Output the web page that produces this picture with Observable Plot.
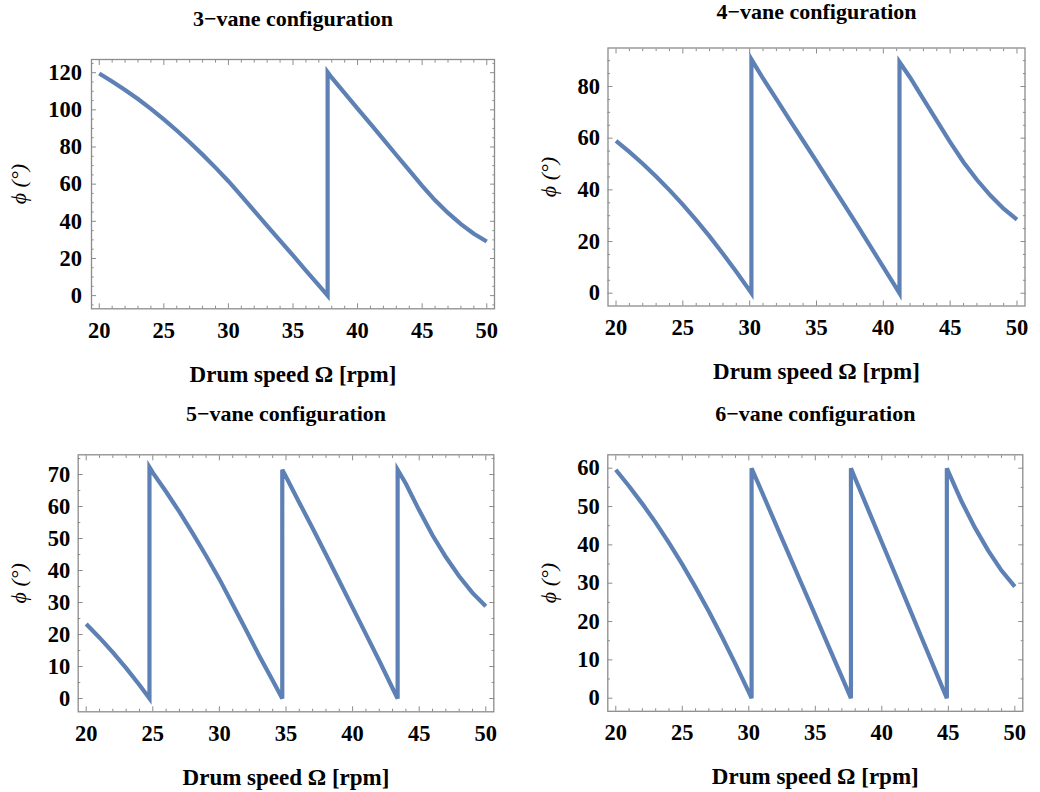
<!DOCTYPE html>
<html>
<head>
<meta charset="utf-8">
<script src="https://cdn.jsdelivr.net/npm/d3@7"></script>
<script src="https://cdn.jsdelivr.net/npm/@observablehq/plot@0.6"></script>
<style>
html, body { margin: 0; padding: 0; background: #fff; }
#root { position: relative; width: 1040px; height: 792px; overflow: hidden; background: #fff; }
#root svg { position: absolute; }
</style>
</head>
<body>
<div id="root"></div>
<script>
// ---------- data ----------
const titles = ["3\u2212vane configuration", "4\u2212vane configuration", "5\u2212vane configuration", "6\u2212vane configuration"];
const xLabel = "Drum speed \u03A9 [rpm]";
const yLabel = "\u03D5 (\u00B0)";

const xMajor = [20, 25, 30, 35, 40, 45, 50];
const xMinor = [21, 22, 23, 24, 26, 27, 28, 29, 31, 32, 33, 34, 36, 37, 38, 39, 41, 42, 43, 44, 46, 47, 48, 49];

const yMajor3 = [0, 20, 40, 60, 80, 100, 120];
const yMinor3 = [-5, 5, 10, 15, 25, 30, 35, 45, 50, 55, 65, 70, 75, 85, 90, 95, 105, 110, 115, 125];
const yMajor4 = [0, 20, 40, 60, 80];
const yMinor4 = [5, 10, 15, 25, 30, 35, 45, 50, 55, 65, 70, 75, 85, 90];
const yMajor5 = [0, 10, 20, 30, 40, 50, 60, 70];
const yMinor5 = [5, 15, 25, 35, 45, 55, 65, 75];
const yMajor6 = [0, 10, 20, 30, 40, 50, 60];
const yMinor6 = [5, 15, 25, 35, 45, 55];

// 3-vane
const omega3 = [20, 21, 22, 23, 24, 25, 26, 27, 28, 29, 30, 31, 32, 33, 34, 35, 36, 37, 37.68, 37.68, 38, 39, 40, 41, 42, 43, 44, 45, 46, 47, 48, 49, 50];
const phi3 = [119.6, 115.3, 110.7, 105.8, 100.5, 94.9, 88.9, 82.6, 75.9, 68.9, 61.6, 53.7, 45.6, 37.6, 29.6, 21.6, 13.5, 5.5, 0, 120.3, 117.3, 109.0, 100.7, 92.4, 84.1, 75.7, 67.4, 59.1, 51.3, 44.5, 38.5, 33.3, 29.1];
// 4-vane
const omega4 = [20, 21, 22, 23, 24, 25, 26, 27, 28, 29, 30, 30.13, 30.13, 31, 32, 33, 34, 35, 36, 37, 38, 39, 40, 41, 41.21, 41.21, 42, 43, 44, 45, 46, 47, 48, 49, 50];
const phi4 = [59.0, 54.7, 50.1, 45.2, 39.9, 34.3, 28.3, 22.0, 15.3, 8.3, 1.0, 0, 90.5, 83.1, 75.1, 67.0, 59.0, 51.0, 42.9, 34.9, 26.7, 18.4, 10.1, 1.8, 0, 89.5, 83.5, 75.1, 66.8, 58.5, 50.7, 43.9, 37.9, 32.7, 28.5];
// 5-vane
const omega5 = [20, 21, 22, 23, 24, 24.75, 24.75, 25, 26, 27, 28, 29, 30, 31, 32, 33, 34, 34.72, 34.72, 35, 36, 37, 38, 39, 40, 41, 42, 43, 43.38, 43.38, 44, 45, 46, 47, 48, 49, 50];
const phi5 = [23.3, 19.0, 14.4, 9.5, 4.2, 0, 72.3, 70.6, 64.6, 58.3, 51.6, 44.6, 37.3, 29.4, 21.4, 13.3, 5.6, 0, 71.5, 69.3, 61.2, 53.2, 45.0, 36.7, 28.4, 20.1, 11.8, 3.2, 0, 71.5, 67.1, 58.8, 51.0, 44.2, 38.2, 33.0, 28.8];
// 6-vane
const omega6 = [20, 21, 22, 23, 24, 25, 26, 27, 28, 29, 30, 30.21, 30.21, 31, 32, 33, 34, 35, 36, 37, 37.68, 37.68, 38, 39, 40, 41, 42, 43, 44, 44.89, 44.89, 45, 46, 47, 48, 49, 50];
const phi6 = [59.6, 55.3, 50.7, 45.8, 40.5, 34.9, 28.9, 22.6, 15.9, 8.9, 1.6, 0, 60, 53.7, 45.6, 37.6, 29.6, 21.6, 13.5, 5.5, 0, 60, 57.3, 49.0, 40.7, 32.4, 24.1, 15.7, 7.4, 0, 60, 59.1, 51.3, 44.5, 38.5, 33.3, 29.1];

// ---------- layout ----------
const FONT = "'Liberation Serif', 'Times New Roman', serif";
const GRAY = "#8c8c8c";
const LINE = "#5E81B5";
const TICK_FS = 22.5;

const panels = [
  {title: titles[0], omega: omega3, phi: phi3, yMajor: yMajor3, yMinor: yMinor3,
   left: 0, top: 0, m: {top: 59, right: 26, bottom: 87.7, left: 91}, yDomain: [-7.1, 127.1], yGap: 9.5, yLabelDx: -73, titleDy: -34},
  {title: titles[1], omega: omega4, phi: phi4, yMajor: yMajor4, yMinor: yMinor4,
   left: 520, top: 0, m: {top: 47.5, right: 15.5, bottom: 90.5, left: 87.5}, yDomain: [-4.95, 94.9], yGap: 8, yLabelDx: -59.5, titleDy: -29},
  {title: titles[2], omega: omega5, phi: phi5, yMajor: yMajor5, yMinor: yMinor5,
   left: 0, top: 396, m: {top: 58.3, right: 26.7, bottom: 80.7, left: 77.7}, yDomain: [-4.16, 76.16], yGap: 8, yLabelDx: -59.7, titleDy: -33.6},
  {title: titles[3], omega: omega6, phi: phi6, yMajor: yMajor6, yMinor: yMinor6,
   left: 520, top: 396, m: {top: 58.3, right: 17.7, bottom: 81.2, left: 87.3}, yDomain: [-3.42, 63.5], yGap: 8, yLabelDx: -59.3, titleDy: -33.6}
];

const root = document.getElementById("root");
const empty = () => "";

for (const p of panels) {
  const svg = Plot.plot({
    width: 520,
    height: 396,
    marginTop: p.m.top,
    marginRight: p.m.right,
    marginBottom: p.m.bottom,
    marginLeft: p.m.left,
    x: {domain: [19.4, 50.6]},
    y: {domain: p.yDomain},
    style: {fontFamily: FONT, fontWeight: "bold", fontSize: "22px", background: "transparent", overflow: "visible", color: "#000"},
    marks: [
      // inward frame ticks, all four sides
      Plot.axisX(xMinor, {anchor: "bottom", tickSize: -2.6, tickFormat: empty, stroke: GRAY, label: null}),
      Plot.axisX(xMajor, {anchor: "bottom", tickSize: -5, tickFormat: empty, stroke: GRAY, label: null}),
      Plot.axisX(xMinor, {anchor: "top", tickSize: -2.6, tickFormat: empty, stroke: GRAY, label: null}),
      Plot.axisX(xMajor, {anchor: "top", tickSize: -5, tickFormat: empty, stroke: GRAY, label: null}),
      Plot.axisY(p.yMinor, {anchor: "left", tickSize: -2.6, tickFormat: empty, stroke: GRAY, label: null}),
      Plot.axisY(p.yMajor, {anchor: "left", tickSize: -5, tickFormat: empty, stroke: GRAY, label: null}),
      Plot.axisY(p.yMinor, {anchor: "right", tickSize: -2.6, tickFormat: empty, stroke: GRAY, label: null}),
      Plot.axisY(p.yMajor, {anchor: "right", tickSize: -5, tickFormat: empty, stroke: GRAY, label: null}),
      Plot.frame({stroke: GRAY, strokeWidth: 1.3}),
      // tick labels, placed through the x / y scales
      Plot.text(xMajor, {x: d => d, frameAnchor: "bottom", dy: 29, lineAnchor: "bottom", textAnchor: "middle", text: d => String(d), fontSize: TICK_FS, fontWeight: "bold", fill: "#000"}),
      Plot.text(p.yMajor, {y: d => d, frameAnchor: "left", dx: -p.yGap, lineAnchor: "middle", textAnchor: "end", text: d => String(d), fontSize: TICK_FS, fontWeight: "bold", fill: "#000"}),
      // the curve
      Plot.line(p.omega, {x: p.omega, y: p.phi, stroke: LINE, strokeWidth: 4.2, strokeLinejoin: "miter", strokeLinecap: "butt", strokeMiterlimit: 4}),
      // texts
      Plot.text([p.title], {frameAnchor: "top", dy: p.titleDy, lineAnchor: "bottom", text: d => d, fontSize: 22, fontWeight: "bold", fill: "#000"}),
      Plot.text([xLabel], {frameAnchor: "bottom", dy: 73, lineAnchor: "bottom", text: d => d, fontSize: 23, fontWeight: "bold", fill: "#000"}),
      Plot.text([yLabel], {frameAnchor: "left", dx: p.yLabelDx, rotate: -90, textAnchor: "middle", lineAnchor: "middle", text: d => d, fontSize: 22, fontWeight: "normal", fontStyle: "italic", fill: "#000"})
    ]
  });
  svg.style.left = p.left + "px";
  svg.style.top = p.top + "px";
  root.appendChild(svg);
}
</script>
</body>
</html>
